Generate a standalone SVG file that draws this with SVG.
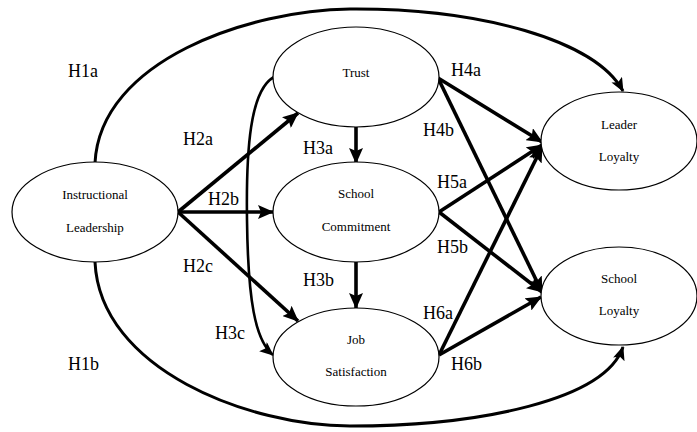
<svg xmlns="http://www.w3.org/2000/svg" width="697" height="432" viewBox="0 0 697 432">
<defs>
<marker id="al" markerUnits="userSpaceOnUse" markerWidth="16" markerHeight="14" refX="15" refY="7" orient="auto"><path d="M0,0 L16,7 L0,14 L3,7 z" fill="#000"/></marker>
<marker id="as" markerUnits="userSpaceOnUse" markerWidth="14" markerHeight="12" refX="13" refY="6" orient="auto"><path d="M0,0 L14,6 L0,12 L3,6 z" fill="#000"/></marker>
</defs>
<rect width="697" height="432" fill="#fff"/>
<g id="connectors" fill="none" stroke="#000">
<g stroke-width="3" marker-end="url(#as)">
<path d="M95,163 C100,60 250,10 350,9 C480,8 595,40 623,91"/>
<path d="M95,262 C100,370 250,426 350,426 C480,426 605,400 623,347"/>
<path stroke-width="2.6" d="M274,77 C250,90 246,150 247,220 C248,300 255,340 273,355"/>
</g>
<g stroke-width="3.6" marker-end="url(#al)">
<path d="M178,212 L298,113"/>
<path d="M178,212 L273,212"/>
<path d="M178,212 L298,321"/>
<path d="M356,127 L356,163"/>
<path d="M356,262 L356,308"/>
<path d="M438,78 L542,142"/>
<path d="M438,78 L542,292"/>
<path d="M439,212 L542,145"/>
<path d="M439,212 L542,292"/>
<path d="M439,355 L542,147"/>
<path d="M439,355 L541,297"/>
</g>
</g>
<g fill="#fff" stroke="#000" stroke-width="1.2">
<g id="instructional-leadership"><ellipse cx="95" cy="212" rx="83" ry="50"/></g>
<g id="trust"><ellipse cx="356" cy="77" rx="83" ry="50"/></g>
<g id="school-commitment"><ellipse cx="356" cy="212" rx="83" ry="50"/></g>
<g id="job-satisfaction"><ellipse cx="356" cy="357" rx="83" ry="49"/></g>
<g id="leader-loyalty"><ellipse cx="619" cy="141" rx="78" ry="49"/></g>
<g id="school-loyalty"><ellipse cx="619" cy="296" rx="78" ry="49"/></g>
</g>
<g id="node-texts">
<text font-family="Liberation Serif" font-size="13" text-anchor="middle" x="95" y="199">Instructional</text>
<text font-family="Liberation Serif" font-size="13" text-anchor="middle" x="95" y="232">Leadership</text>
<text font-family="Liberation Serif" font-size="13" text-anchor="middle" x="356" y="77">Trust</text>
<text font-family="Liberation Serif" font-size="13" text-anchor="middle" x="356" y="198">School</text>
<text font-family="Liberation Serif" font-size="13" text-anchor="middle" x="356" y="231">Commitment</text>
<text font-family="Liberation Serif" font-size="13" text-anchor="middle" x="356" y="344">Job</text>
<text font-family="Liberation Serif" font-size="13" text-anchor="middle" x="356" y="376">Satisfaction</text>
<text font-family="Liberation Serif" font-size="13" text-anchor="middle" x="619" y="129">Leader</text>
<text font-family="Liberation Serif" font-size="13" text-anchor="middle" x="619" y="161">Loyalty</text>
<text font-family="Liberation Serif" font-size="13" text-anchor="middle" x="619" y="283">School</text>
<text font-family="Liberation Serif" font-size="13" text-anchor="middle" x="619" y="315">Loyalty</text>
</g>
<g id="labels">
<text font-family="Liberation Serif" font-size="18" x="68" y="77">H1a</text>
<text font-family="Liberation Serif" font-size="18" x="183" y="145">H2a</text>
<text font-family="Liberation Serif" font-size="18" x="303" y="154">H3a</text>
<text font-family="Liberation Serif" font-size="18" x="208" y="205">H2b</text>
<text font-family="Liberation Serif" font-size="18" x="451" y="76">H4a</text>
<text font-family="Liberation Serif" font-size="18" x="423" y="136">H4b</text>
<text font-family="Liberation Serif" font-size="18" x="437" y="188">H5a</text>
<text font-family="Liberation Serif" font-size="18" x="437" y="253">H5b</text>
<text font-family="Liberation Serif" font-size="18" x="183" y="272">H2c</text>
<text font-family="Liberation Serif" font-size="18" x="303" y="286">H3b</text>
<text font-family="Liberation Serif" font-size="18" x="215" y="339">H3c</text>
<text font-family="Liberation Serif" font-size="18" x="68" y="370">H1b</text>
<text font-family="Liberation Serif" font-size="18" x="423" y="319">H6a</text>
<text font-family="Liberation Serif" font-size="18" x="451" y="370">H6b</text>
</g>
</svg>
